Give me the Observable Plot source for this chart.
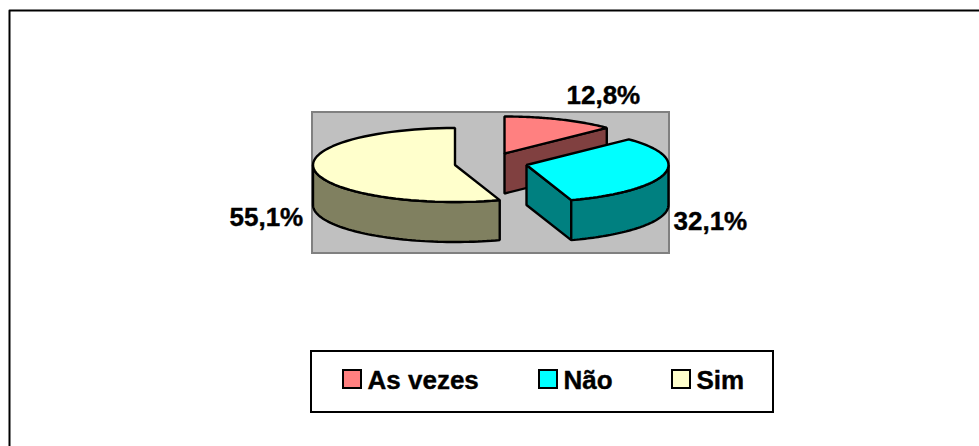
<!DOCTYPE html>
<html><head><meta charset="utf-8">
<script src="https://cdn.jsdelivr.net/npm/d3@7"></script>
<script src="https://cdn.jsdelivr.net/npm/@observablehq/plot@0.6"></script>
<style>html,body{margin:0;padding:0;background:#fff;overflow:hidden}svg{display:block}</style>
</head><body><div id="chart"></div>
<script>
const categories = ["As vezes", "Não", "Sim"];
const values = [12.8, 32.1, 55.1];
const valueLabels = ["12,8%", "32,1%", "55,1%"];

const topColors = ["#FF8080", "#00FFFF", "#FFFFCC"];
const sideColors = ["#804040", "#008080", "#808060"];
const apexX = [504, 526, 454.5];
const apexY = [153, 164.5, 164.5];
const labelX = [566, 673, 229];
const labelY = [95, 221, 217];
const legendSwatchX = [343, 539, 672];
const legendTextX = [367, 563, 696];
const RX = 142, RY = 37, DEPTH = 40, LINE = 2.4;
const font = {fontFamily: "Liberation Sans, Arial, sans-serif", fontWeight: "bold", fontSize: 26, fill: "black", stroke: "black", strokeWidth: 0.4, textAnchor: "start"};

const total = d3.sum(values);
let cum = 0;
const slices = categories.map((name, i) => {
  const a0 = cum / total * 2 * Math.PI; cum += values[i];
  const a1 = cum / total * 2 * Math.PI;
  return {name, i, a0, a1, cx: apexX[i], cy: apexY[i]};
});
const pt = (s, a, d = 0) => ({x: s.cx + RX * Math.sin(a), y: s.cy - RY * Math.cos(a) + d});
const arc = (s, a0, a1, d = 0) => d3.range(61).map(k => pt(s, a0 + (a1 - a0) * k / 60, d));

const poly = (points, fill) => Plot.line(points, {x: "x", y: "y", fill, stroke: "black", strokeWidth: LINE, curve: "linear-closed", strokeLinejoin: "miter"});

const marks = [
  Plot.line([{x: 9, y: 446}, {x: 9, y: 10}, {x: 979, y: 10}], {x: "x", y: "y", stroke: "black", strokeWidth: 2}),
  Plot.rect([{x1: 312, x2: 669, y1: 112, y2: 253}], {x1: "x1", x2: "x2", y1: "y1", y2: "y2", fill: "#C0C0C0", stroke: "#808080", strokeWidth: 2})
];

const [red, cyan, sim] = slices;
// As vezes
marks.push(poly([{x: red.cx, y: red.cy}, pt(red, red.a1), pt(red, red.a1, DEPTH), {x: red.cx, y: red.cy + DEPTH}], sideColors[0]));
marks.push(poly([{x: red.cx, y: red.cy}, ...arc(red, red.a0, red.a1)], topColors[0]));
// Não
marks.push(poly([{x: cyan.cx, y: cyan.cy}, pt(cyan, cyan.a1), pt(cyan, cyan.a1, DEPTH), {x: cyan.cx, y: cyan.cy + DEPTH}], sideColors[1]));
marks.push(poly([...arc(cyan, Math.PI / 2, cyan.a1), ...arc(cyan, cyan.a1, Math.PI / 2, DEPTH)], sideColors[1]));
marks.push(poly([{x: cyan.cx, y: cyan.cy}, ...arc(cyan, cyan.a0, cyan.a1)], topColors[1]));
// Sim
marks.push(poly([...arc(sim, sim.a0, 1.5 * Math.PI), ...arc(sim, 1.5 * Math.PI, sim.a0, DEPTH)], sideColors[2]));
marks.push(poly([{x: sim.cx, y: sim.cy}, ...arc(sim, sim.a0, sim.a1)], topColors[2]));

// data labels
marks.push(Plot.text(valueLabels, {x: (d, i) => labelX[i], y: (d, i) => labelY[i], text: d => d, ...font}));

// legend
marks.push(Plot.rect([{x1: 311, x2: 773, y1: 351, y2: 412}], {x1: "x1", x2: "x2", y1: "y1", y2: "y2", fill: "white", stroke: "black", strokeWidth: 2}));
marks.push(Plot.rect(categories, {x1: (d, i) => legendSwatchX[i], x2: (d, i) => legendSwatchX[i] + 18, y1: 370, y2: 388, fill: (d, i) => topColors[i], stroke: "black", strokeWidth: 2}));
marks.push(Plot.text(categories, {x: (d, i) => legendTextX[i], y: 380, text: d => d, ...font}));

const chart = Plot.plot({
  width: 979, height: 446, margin: 0, style: {background: "white"},
  x: {domain: [0, 979], range: [0, 979], axis: null},
  y: {domain: [0, 446], range: [0, 446], axis: null},
  color: {type: "identity"},
  marks
});
document.getElementById("chart").append(chart);
</script></body></html>
